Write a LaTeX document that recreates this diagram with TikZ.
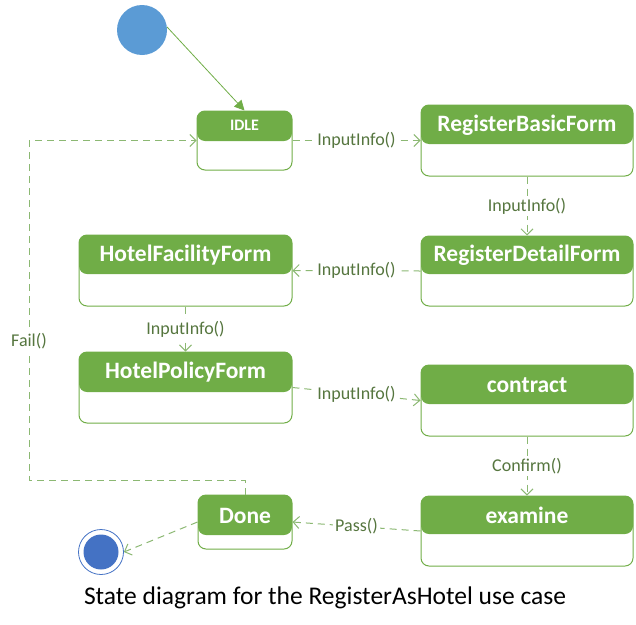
\documentclass[tikz,border=0pt]{standalone}
\usepackage{fontspec}
\setmainfont{Carlito}
\usepackage{xcolor}
\usepackage{tikz}
\usetikzlibrary{arrows.meta}
\definecolor{stategreen}{HTML}{70AD47}
\definecolor{transgreen}{HTML}{8CB873}
\definecolor{lblgreen}{HTML}{56763F}
\definecolor{startblue}{HTML}{5B9BD5}
\definecolor{endblue}{HTML}{4472C4}

\begin{document}
\begin{tikzpicture}[x=1pt,y=-1pt,
  state/.style n args={3}{draw=stategreen, line width=1pt, rounded corners=8pt,
    minimum width=#1pt, minimum height=#2pt, inner sep=0pt,
    path picture={\fill[stategreen] (path picture bounding box.north west)
      rectangle ([yshift=-#3pt]path picture bounding box.north east);}},
  hdrtext/.style={text=white, inner sep=0pt, font=\fontsize{23.5}{26}\selectfont\bfseries},
  trans/.style={draw=transgreen, line width=1pt, dash pattern=on 7pt off 5pt,
    -{Straight Barb[length=6pt,width=12pt]}},
  lbl/.style={fill=white, text=lblgreen, inner sep=2pt, font=\fontsize{18}{20}\selectfont}]
\useasboundingbox (0,0) rectangle (636,624);

% start and end
\node[circle, fill=startblue, minimum size=50pt, inner sep=0pt] (init) at (142,30) {};
\node[circle, draw=endblue, line width=0.8pt, minimum size=45pt, inner sep=0pt,
  path picture={\fill[endblue] (path picture bounding box.center) circle (17.5pt);}] (final) at (101,552) {};

% states
\node[state={95}{59}{30}] (idle) at (244.5,140.5) {};
\node[hdrtext, font=\fontsize{16}{18}\selectfont\bfseries] (idle-t) at ([yshift=-15pt]idle.north) {IDLE};
\node[state={212}{71}{39}] (basic) at (527,140.5) {};
\node[hdrtext] (basic-t) at ([yshift=-20.5pt]basic.north) {RegisterBasicForm};
\node[state={212}{70}{38}] (detail) at (527,271) {};
\node[hdrtext] (detail-t) at ([yshift=-20pt]detail.north) {RegisterDetailForm};
\node[state={213}{71}{39}] (facility) at (185.5,270.5) {};
\node[hdrtext] (facility-t) at ([yshift=-20.5pt]facility.north) {HotelFacilityForm};
\node[state={213}{71}{40}] (policy) at (185.5,387.5) {};
\node[hdrtext] (policy-t) at ([yshift=-21pt]policy.north) {HotelPolicyForm};
\node[state={212}{71}{39}] (contract) at (527,400.5) {};
\node[hdrtext] (contract-t) at ([yshift=-20.5pt]contract.north) {contract};
\node[state={212}{70}{38}] (examine) at (527,531) {};
\node[hdrtext] (examine-t) at ([yshift=-20pt]examine.north) {examine};
\node[state={94}{54}{40}] (done) at (245,522) {};
\node[hdrtext] (done-t) at ([yshift=-21pt]done.north) {Done};

% transitions
\draw[stategreen, line width=0.8pt, -{Triangle[length=10pt,width=10pt]}] (init.7) -- (idle.north);
\draw[trans] (idle.east) -- node[lbl] {InputInfo()} (basic.west);
\draw[trans] (basic.south) -- node[lbl] {InputInfo()} (detail.north);
\draw[trans] (detail.west) -- node[lbl] {InputInfo()} (facility.east);
\draw[trans] (facility.south) -- node[lbl] {InputInfo()} (policy.north);
\draw[trans] (policy.east) -- node[lbl] {InputInfo()} (contract.west);
\draw[trans] (contract.south) -- node[lbl] {Confirm()} (examine.north);
\draw[trans] (examine.west) -- node[lbl] {Pass()} (done.east);
\draw[trans] (done.west) -- (final.east);
\coordinate (failturn) at (29,480);
\coordinate (failtop) at (29,140.5);
\draw[trans] (done.north) |- (failturn) -- node[lbl, pos=0.41] {Fail()} (failtop) -- (idle.west);

\node[font=\fontsize{25.5}{28}\selectfont] (caption) at (325,598) {State diagram for the RegisterAsHotel use case};
\end{tikzpicture}
\end{document}
